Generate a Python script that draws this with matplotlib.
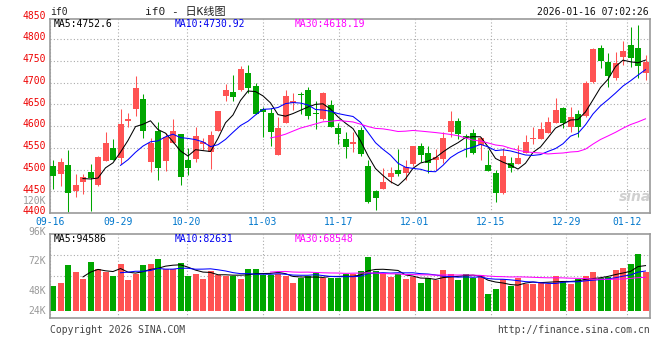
import matplotlib
matplotlib.use('Agg')
import matplotlib.pyplot as plt
import matplotlib.transforms as mtransforms
import numpy as np
import pandas as pd

# ---------------- data ----------------
opens = [4508, 4490, 4510, 4451, 4472, 4494, 4464, 4520, 4549, 4527,
         4611, 4638, 4662, 4518, 4588, 4520, 4560, 4582, 4522, 4524,
         4558, 4541, 4589, 4670, 4679, 4683, 4721, 4692, 4638, 4631,
         4533, 4608, 4652, 4674, 4683, 4629, 4616, 4648, 4596, 4570,
         4558, 4591, 4508, 4451, 4455, 4482, 4499, 4491, 4513, 4554,
         4537, 4522, 4523, 4587, 4611, 4576, 4583, 4556, 4510, 4493,
         4445, 4516, 4513, 4539, 4569, 4570, 4585, 4608, 4641, 4597,
         4628, 4623, 4702, 4779, 4746, 4711, 4759, 4786, 4779, 4721]
highs = [4522, 4527, 4545, 4490, 4490, 4513, 4531, 4587, 4570, 4639,
         4631, 4716, 4674, 4572, 4609, 4585, 4616, 4582, 4549, 4598,
         4573, 4589, 4635, 4696, 4717, 4738, 4740, 4698, 4643, 4641,
         4620, 4683, 4675, 4679, 4690, 4658, 4679, 4660, 4606, 4587,
         4587, 4598, 4522, 4453, 4503, 4505, 4546, 4522, 4554, 4560,
         4554, 4546, 4586, 4635, 4618, 4581, 4593, 4575, 4545, 4499,
         4549, 4529, 4556, 4579, 4598, 4610, 4621, 4665, 4644, 4644,
         4637, 4703, 4779, 4786, 4767, 4769, 4796, 4828, 4832, 4763]
lows = [4455, 4462, 4403, 4437, 4444, 4405, 4463, 4520, 4522, 4512,
        4598, 4623, 4573, 4494, 4476, 4496, 4560, 4464, 4487, 4518,
        4545, 4501, 4589, 4658, 4658, 4680, 4675, 4628, 4575, 4554,
        4533, 4606, 4637, 4628, 4616, 4592, 4614, 4598, 4558, 4527,
        4541, 4531, 4424, 4407, 4455, 4470, 4486, 4476, 4508, 4517,
        4491, 4499, 4514, 4575, 4569, 4529, 4535, 4522, 4497, 4426,
        4444, 4495, 4512, 4537, 4558, 4569, 4584, 4607, 4595, 4587,
        4575, 4621, 4700, 4733, 4690, 4706, 4740, 4736, 4710, 4706]
closes = [4486, 4518, 4445, 4464, 4483, 4481, 4529, 4562, 4522, 4605,
          4616, 4688, 4589, 4562, 4504, 4575, 4589, 4483, 4504, 4577,
          4564, 4579, 4634, 4683, 4667, 4731, 4687, 4628, 4633, 4587,
          4596, 4669, 4658, 4671, 4624, 4627, 4675, 4598, 4581, 4552,
          4564, 4535, 4426, 4434, 4472, 4493, 4489, 4506, 4554, 4533,
          4514, 4528, 4573, 4612, 4581, 4574, 4537, 4572, 4497, 4447,
          4531, 4503, 4527, 4564, 4572, 4593, 4610, 4637, 4608, 4621,
          4598, 4698, 4776, 4750, 4715, 4744, 4772, 4757, 4739, 4746]
volumes = [53100, 59400, 96600, 81900, 67200, 102900, 88200, 81900, 74100, 98700,
           65100, 78300, 96600, 98700, 109200, 88200, 88200, 100800, 74100, 78300,
           67200, 84600, 76200, 74100, 74100, 67200, 88200, 88200, 75600, 75600,
           78300, 74100, 59400, 69900, 74100, 79200, 69900, 69900, 69900, 77100,
           77100, 84000, 114000, 84000, 79200, 71400, 77100, 67200, 71400, 58800,
           69300, 65100, 86100, 78300, 65100, 77700, 69300, 75600, 35700, 46200,
           67200, 53100, 69300, 57300, 57300, 60900, 57300, 73500, 60900, 57300,
           66600, 74100, 81900, 69300, 71400, 86100, 90300, 98700, 119700, 81900]
tick_labels = ['09-16', '09-29', '10-20', '11-03', '11-17', '12-01', '12-15', '12-29', '01-12']
tick_index = [0, 9, 18, 28, 38, 48, 58, 68, 76]
price_ticks = [4400, 4450, 4500, 4550, 4600, 4650, 4700, 4750, 4800, 4850]
ma_price_text = ['MA5:4752.6', 'MA10:4730.92', 'MA30:4618.19']
ma_vol_text = ['MA5:94586', 'MA10:82631', 'MA30:68548']
vol_labels = ['96K', '72K', '48K', '24K']

# ---------------- style ----------------
W, H = 660, 360
RED = '#ff5353'
GREEN = '#00a600'
GRID = '#aaaaaa'
MONO = ['DejaVu Sans Mono', 'Noto Sans CJK SC']
FS = 7
LW = 0.75

def fx(px):
    return px / W

def fy(py):
    return 1 - py / H

fig = plt.figure(figsize=(W / 100, H / 100), dpi=100)
fig.patch.set_facecolor('white')

n = len(closes)
o = np.array(opens, float)
c = np.array(closes, float)
h = np.array(highs, float)
l = np.array(lows, float)
v = np.array(volumes, float)
xs = np.arange(n) + 0.4
up = c >= o
cols = [RED if u else GREEN for u in up]

# ---------------- main panel ----------------
ax = fig.add_axes([fx(50), fy(213), fx(600), 194 / H])
ax.set_xlim(0, n)
ax.set_ylim(4400, 4846)
for k in tick_index:
    ax.axvline(k * n / (n - 1), color=GRID, lw=0.8, ls=(0, (1, 2)), zorder=0)
for p in price_ticks[1:-1]:
    ax.axhline(p, color=GRID, lw=0.8, ls=(0, (1, 2)), zorder=0)

ax.vlines(xs, l, h, colors=cols, lw=LW, zorder=2)
body = np.maximum(np.abs(c - o), 1.6)
ax.bar(xs, body, bottom=np.minimum(o, c), width=0.8, color=cols, zorder=3, linewidth=0)

cs = pd.Series(c)
ax.plot(xs, cs.rolling(5).mean(), color='black', lw=LW, zorder=4)
ax.plot(xs, cs.rolling(10).mean(), color='#0000ff', lw=LW, zorder=4)
ax.plot(xs, cs.rolling(30).mean(), color='#ff00ff', lw=LW, zorder=4)

ax.set_xticks([])
ax.set_yticks([])
for s in ax.spines.values():
    s.set_color('#999999')
    s.set_linewidth(1.2)

trans = mtransforms.blended_transform_factory(ax.transAxes, ax.transData)
for p in price_ticks:
    ax.text(-4 / 600, p + 4, str(p), transform=trans, ha='right', va='center',
            color='#ee0000', fontsize=FS, family=MONO, clip_on=False)
for k, lab in zip(tick_index, tick_labels):
    ax.text(k * n / (n - 1), -0.045, lab, transform=mtransforms.blended_transform_factory(ax.transData, ax.transAxes),
            ha='center', va='center', color='#0077cc', fontsize=FS, family=MONO, clip_on=False)

# watermark
ax.text(0.975, 0.08, 'sina', transform=ax.transAxes, ha='center', va='center',
        color='#d0d0d0', fontsize=10, style='italic', weight='bold', family='DejaVu Sans')

# ---------------- volume panel ----------------
vax = fig.add_axes([fx(50), fy(317.7), fx(600), 83.7 / H])
vax.set_xlim(0, n)
vax.set_ylim(-14070, 161700)
for k in tick_index:
    vax.axvline(k * n / (n - 1), color=GRID, lw=0.8, ls=(0, (1, 2)), zorder=0)
for f in [0.25, 0.5, 0.75]:
    vax.plot([0, 1], [f, f], transform=vax.transAxes, color=GRID, lw=0.8, ls=(0, (1, 2)), zorder=0)
vax.bar(xs, v, width=0.8, color=cols, linewidth=0, zorder=2)
vs = pd.Series(v)
vax.plot(xs, vs.rolling(5).mean(), color='black', lw=LW, zorder=4)
vax.plot(xs, vs.rolling(10).mean(), color='#0000ff', lw=LW, zorder=4)
vax.plot(xs, vs.rolling(30).mean(), color='#ff00ff', lw=LW, zorder=4)
vax.set_xticks([])
vax.set_yticks([])
for s in vax.spines.values():
    s.set_color('#999999')
    s.set_linewidth(1.2)

# ---------------- texts ----------------
fig.text(fx(50), fy(12), 'if0', ha='left', va='center', fontsize=FS, family=MONO, color='#222222')
fig.text(fx(185), fy(12), 'if0 - 日K线图', ha='center', va='center', fontsize=8, family=MONO, color='#222222')
fig.text(fx(649), fy(12), '2026-01-16 07:02:26', ha='right', va='center', fontsize=FS, family=MONO, color='#111111')

for xp, txt, col in zip([54, 175, 295], ma_price_text, ['black', '#0000ee', '#ff00ff']):
    fig.text(fx(xp), fy(24), txt, ha='left', va='center', fontsize=FS, family=MONO, color=col)
for xp, txt, col in zip([54, 175, 295], ma_vol_text, ['black', '#0000ee', '#ff00ff']):
    fig.text(fx(xp), fy(238.5), txt, ha='left', va='center', fontsize=FS, family=MONO, color=col)

fig.text(fx(46), fy(201), '120K', ha='right', va='center', fontsize=FS, family=MONO, color='#999999')
for yp, lab in zip([231.5, 260.5, 290.5, 311], vol_labels):
    fig.text(fx(46), fy(yp), lab, ha='right', va='center', fontsize=FS, family=MONO, color='#999999')

fig.text(fx(50), fy(330), 'Copyright 2026 SINA.COM', ha='left', va='center', fontsize=FS, family=MONO, color='#444444')
fig.text(fx(650), fy(330), 'http://finance.sina.com.cn', ha='right', va='center', fontsize=FS, family=MONO, color='#444444')

fig.savefig('out.png', dpi=100)
